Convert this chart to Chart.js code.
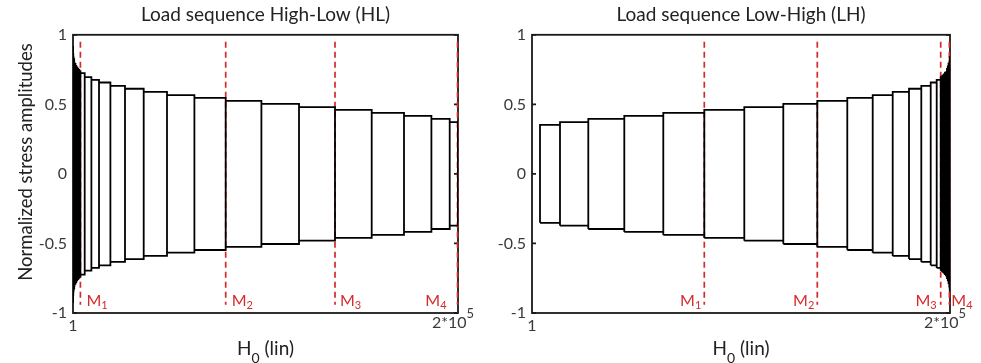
<!DOCTYPE html>
<html>
<head>
<meta charset="utf-8">
<script src="https://cdn.jsdelivr.net/npm/chart.js@4.4.1/dist/chart.umd.min.js"></script>
<style>
  html, body { margin: 0; padding: 0; background: #fff; }
  #wrap { position: relative; width: 981px; height: 363px; }
  canvas { position: absolute; top: 0; }
  #hl { left: 0; }
  #lh { left: 490px; }
</style>
</head>
<body>
<div id="wrap">
  <canvas id="hl" width="490" height="363"></canvas>
  <canvas id="lh" width="491" height="363"></canvas>
</div>
<script>
// High-Low: block boundaries (cycles) and one normalized amplitude per block
const hlEdges = [1, 80, 200, 380, 620, 920, 1280, 1700, 2180, 2720, 3280, 3844,
  6078, 9558, 13507, 19429, 27013, 36727, 48831, 63065, 79325,
  97870, 117403, 136104, 155169, 171948, 186182, 195688, 200000];
const hlAmps = [0.92, 0.87, 0.845, 0.825, 0.805, 0.79, 0.777, 0.766, 0.756, 0.747, 0.738,
  0.724, 0.696, 0.676, 0.657, 0.633, 0.612, 0.590, 0.566, 0.547,
  0.525, 0.504, 0.480, 0.460, 0.439, 0.417, 0.396, 0.372];

// Low-High
const lhEdges = [3828, 13397, 26938, 44163, 62823, 82440, 101579, 120240, 136507,
  150861, 163014, 172584, 180383, 186268, 190766, 193636, 195550,
  196300, 197000, 197600, 198100, 198550, 198950, 199300, 199600, 199850, 200000];
const lhAmps = [0.352, 0.372, 0.396, 0.417, 0.439, 0.460, 0.480, 0.504, 0.525,
  0.547, 0.566, 0.590, 0.612, 0.633, 0.657, 0.676,
  0.696, 0.706, 0.716, 0.727, 0.740, 0.755, 0.772, 0.792, 0.815, 0.840];

// measurement points M1..M4
const markerNames = ['M1', 'M2', 'M3', 'M4'];
const hlMarkers = [3844, 79325, 136104, 199750];
const lhMarkers = [82440, 136507, 195550, 199700];
const markerTop = 0.95;
const markerBottom = -0.94;

const xTicks = [1, 200000];
const yTicks = [-1, -0.5, 0, 0.5, 1];

const FONT = "Lato, 'Noto Sans', sans-serif";
const RED = '#d42a2a';
const TEXT = '#222';
const TICK = '#3a3a3a';

// one closed rectangle per block, symmetric around zero
function blockOutline(edges, amps) {
  const pts = [];
  amps.forEach((a, i) => {
    const x0 = edges[i], x1 = edges[i + 1];
    pts.push({x: x0, y: -a}, {x: x0, y: a}, {x: x1, y: a}, {x: x1, y: -a}, {x: x0, y: -a});
    pts.push({x: x1, y: null});
  });
  return pts;
}

function markerLines(xs) {
  return xs.map(x => ({
    data: [{x: x, y: markerTop}, {x: x, y: markerBottom}],
    showLine: true,
    borderColor: RED,
    borderWidth: 1.7,
    borderDash: [6, 4],
    pointRadius: 0,
    clip: false
  }));
}

// draws a run of text pieces, each with its own size and baseline shift
function drawRuns(ctx, runs, x, y, align) {
  let w = 0;
  runs.forEach(r => {
    ctx.font = r.size + 'px ' + FONT;
    r.w = ctx.measureText(r.t).width;
    w += r.w;
  });
  let cx = align === 'center' ? x - w / 2 : align === 'right' ? x - w : x;
  runs.forEach(r => {
    ctx.font = r.size + 'px ' + FONT;
    ctx.fillText(r.t, cx, y + (r.dy || 0));
    cx += r.w;
  });
}

// axes box with short inward ticks
const frame = {
  id: 'frame',
  beforeDatasetsDraw(chart) {
    const {ctx, chartArea: a, scales: {y}} = chart;
    ctx.save();
    ctx.strokeStyle = '#1a1a1a';
    ctx.lineWidth = 1.8;
    ctx.strokeRect(a.left, a.top, a.right - a.left, a.bottom - a.top);
    ctx.beginPath();
    yTicks.forEach(v => {
      const py = y.getPixelForValue(v);
      ctx.moveTo(a.left, py); ctx.lineTo(a.left + 4, py);
      ctx.moveTo(a.right, py); ctx.lineTo(a.right - 4, py);
    });
    ctx.stroke();
    ctx.restore();
  }
};

// axis titles, the 2*10^5 tick and the marker names
const annotate = {
  id: 'annotate',
  afterDraw(chart, args, opts) {
    const {ctx, chartArea: a, scales: {x}} = chart;
    ctx.save();
    ctx.textBaseline = 'alphabetic';

    ctx.fillStyle = TICK;
    drawRuns(ctx, [{t: '2*10', size: 16}, {t: '5', size: 13, dy: -10}],
      x.getPixelForValue(xTicks[1]) - 5, 328, 'center');

    ctx.fillStyle = TEXT;
    drawRuns(ctx, [{t: 'H', size: 19}, {t: '0', size: 14, dy: 8}, {t: ' (lin)', size: 19}],
      (a.left + a.right) / 2, 355, 'center');

    if (opts.yTitle) {
      ctx.save();
      ctx.translate(26, 162);
      ctx.rotate(-Math.PI / 2);
      ctx.textAlign = 'center';
      ctx.textBaseline = 'middle';
      ctx.font = '18.5px ' + FONT;
      ctx.fillText(opts.yTitle, 0, 0);
      ctx.restore();
    }

    ctx.fillStyle = RED;
    opts.markers.forEach((m, i) => {
      const px = x.getPixelForValue(m);
      const off = opts.labelOffsets[i];
      const name = markerNames[i];
      drawRuns(ctx, [{t: name[0], size: 16}, {t: name.slice(1), size: 11, dy: 3}],
        px + off, 306, off < 0 ? 'right' : 'left');
    });
    ctx.restore();
  }
};

function makeChart(id, cfg) {
  return new Chart(document.getElementById(id), {
    type: 'scatter',
    data: {
      datasets: [{
        data: blockOutline(cfg.edges, cfg.amps),
        showLine: true,
        spanGaps: false,
        borderColor: '#000',
        borderWidth: 1.8,
        pointRadius: 0
      }].concat(markerLines(cfg.markers))
    },
    options: {
      responsive: false,
      animation: false,
      devicePixelRatio: 1,
      layout: {padding: {left: 0, right: cfg.padRight, top: 0, bottom: 0}},
      plugins: {
        legend: {display: false},
        tooltip: {enabled: false},
        title: {
          display: true,
          fullSize: false,
          text: cfg.title,
          color: TEXT,
          font: {family: FONT, size: 19, weight: 'normal'},
          padding: {top: 3, bottom: 9}
        },
        annotate: {
          markers: cfg.markers,
          labelOffsets: cfg.labelOffsets,
          yTitle: cfg.yTitle
        }
      },
      scales: {
        x: {
          type: 'linear',
          min: xTicks[0],
          max: xTicks[1],
          grid: {display: false, drawTicks: false},
          border: {display: false},
          afterBuildTicks: s => { s.ticks = xTicks.map(v => ({value: v})); },
          afterFit: s => { s.height = 50; },
          ticks: {
            autoSkip: false,
            maxRotation: 0,
            padding: 3,
            color: TICK,
            font: {family: FONT, size: 16},
            callback: v => (v === xTicks[0] ? '1' : '')
          }
        },
        y: {
          min: -1,
          max: 1,
          grid: {display: false, drawTicks: false},
          border: {display: false},
          afterBuildTicks: s => { s.ticks = yTicks.map(v => ({value: v})); },
          afterFit: s => { s.width = cfg.yWidth; },
          ticks: {
            padding: 6,
            color: TICK,
            font: {family: FONT, size: 16},
            callback: v => String(v)
          }
        }
      }
    },
    plugins: [frame, annotate]
  });
}

makeChart('hl', {
  title: 'Load sequence High-Low (HL)',
  edges: hlEdges,
  amps: hlAmps,
  markers: hlMarkers,
  labelOffsets: [6, 6, 5, -11],
  yTitle: 'Normalized stress amplitudes',
  yWidth: 73,
  padRight: 32
});

makeChart('lh', {
  title: 'Load sequence Low-High (LH)',
  edges: lhEdges,
  amps: lhAmps,
  markers: lhMarkers,
  labelOffsets: [-3, -3, -4, 2],
  yTitle: null,
  yWidth: 42,
  padRight: 31
});
</script>
</body>
</html>
